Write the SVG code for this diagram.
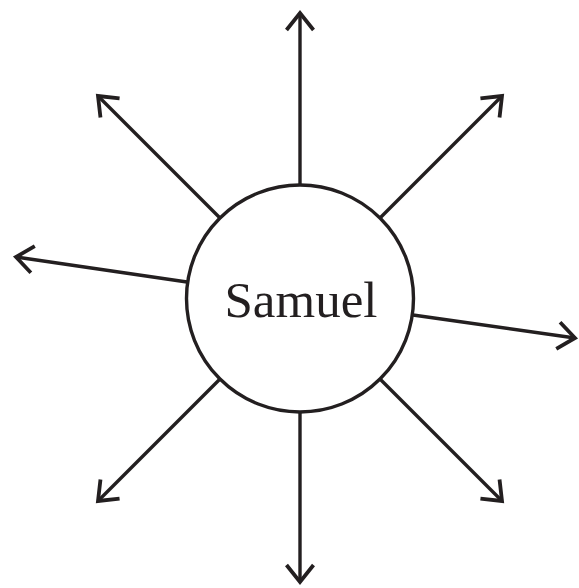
<svg xmlns="http://www.w3.org/2000/svg" width="579" height="588" viewBox="0 0 579 588">
<defs>
<marker id="arr" markerUnits="userSpaceOnUse" orient="auto" markerWidth="40" markerHeight="40" refX="0" refY="0" overflow="visible">
<path d="M-17,-13.5 L0,0 L-17,13.5" fill="none" stroke="#231f20" stroke-width="3.8" stroke-linejoin="miter"/>
</marker>
<style>
.c{fill:none;stroke:#231f20;stroke-width:3.4;marker-end:url(#arr)}
.n{fill:#fff;stroke:#231f20;stroke-width:3.4}
.t{font-family:"Liberation Serif",serif;font-size:51px;fill:#231f20}
</style>
</defs>
<g id="connectors">
<line class="c" x1="300" y1="185" x2="300" y2="13"/>
<line class="c" x1="300" y1="412" x2="300" y2="582"/>
<line class="c" x1="187" y1="282" x2="16" y2="257"/>
<line class="c" x1="413" y1="315" x2="575" y2="338"/>
<line class="c" x1="220" y1="218" x2="98" y2="96"/>
<line class="c" x1="380" y1="218" x2="502" y2="96"/>
<line class="c" x1="220" y1="379" x2="98" y2="501"/>
<line class="c" x1="380" y1="379" x2="502" y2="501"/>
</g>
<g id="samuel">
<circle class="n" cx="300" cy="298.5" r="113.5"/>
<text class="t" x="301" y="316.5" text-anchor="middle">Samuel</text>
</g>
</svg>
